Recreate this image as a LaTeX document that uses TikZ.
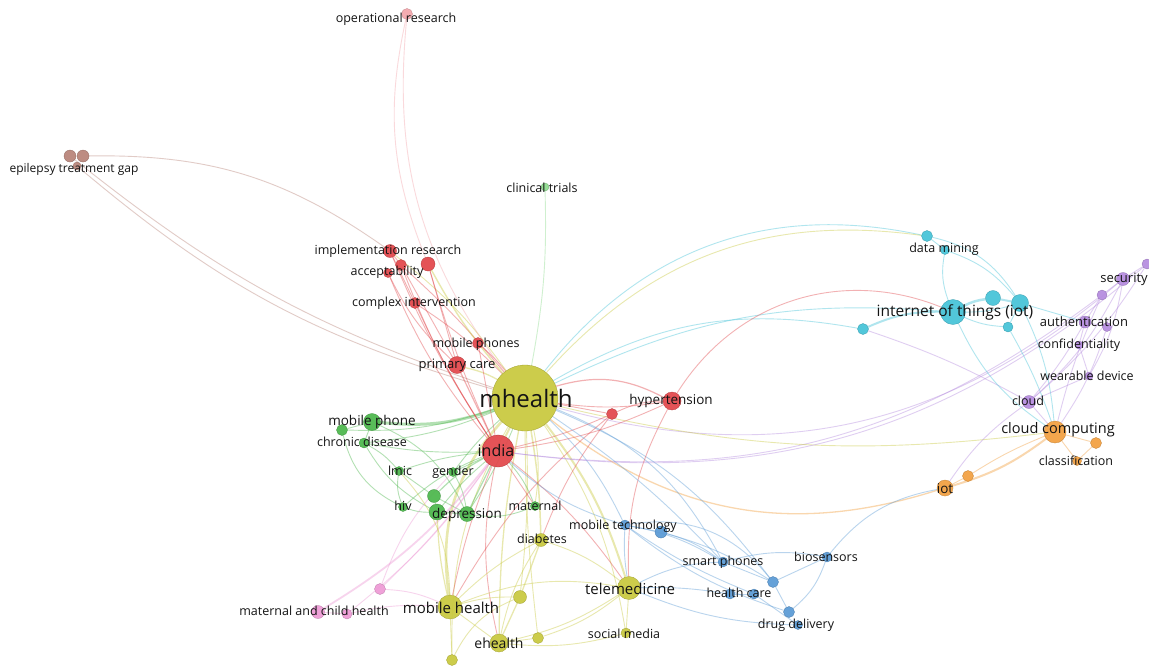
\documentclass[tikz,border=0pt]{standalone}
\usepackage{fontspec}
\setmainfont{Open Sans}
\pgfdeclarelayer{paper}
\pgfdeclarelayer{edges}
\pgfsetlayers{paper,edges,main}

% cluster colours
\definecolor{cy}{HTML}{C9C93E}
\definecolor{cr}{HTML}{E2474B}
\definecolor{cg}{HTML}{4CB74C}
\definecolor{cb}{HTML}{5A9AD6}
\definecolor{cc}{HTML}{45C3D8}
\definecolor{cp}{HTML}{B58BDF}
\definecolor{co}{HTML}{F3A040}
\definecolor{cm}{HTML}{EE9AD6}
\definecolor{cs}{HTML}{F4A6AC}
\definecolor{cw}{HTML}{B98479}
\definecolor{cl}{HTML}{8EDC8E}
\definecolor{txt}{HTML}{141414}

\tikzset{
  nd/.style 2 args={circle, inner sep=0pt, outer sep=0pt, minimum size=#2,
    fill=#1, draw=#1!80!black, line width=0.3pt, fill opacity=0.93},
  lb/.style={inner sep=0pt, text=txt, font=\fontsize{#1}{#1}\selectfont},
  lb/.default=12.5,
  ed/.style={draw=#1, draw opacity=0.42, line width=0.9pt},
  ey/.style={ed=cy}, er/.style={ed=cr}, eg/.style={ed=cg}, eb/.style={ed=cb},
  ec/.style={ed=cc}, ep/.style={ed=cp}, eo/.style={ed=co}, em/.style={ed=cm},
  es/.style={ed=cs}, ew/.style={ed=cw}, el/.style={ed=cl},
}

\begin{document}
\begin{tikzpicture}[x=1pt,y=-1pt]
\useasboundingbox (0,0) rectangle (1149,665);
\begin{pgfonlayer}{paper}
\fill[white] (0,0) rectangle (1149,665);
\end{pgfonlayer}

% ---------- yellow cluster ----------
\node[nd={cy}{66pt}] (mh)   at (525,398) {};
\node[nd={cy}{24pt}] (mobh) at (450,607) {};
\node[nd={cy}{23pt}] (tele) at (629,588) {};
\node[nd={cy}{18pt}] (ehl)  at (499,643) {};
\node[nd={cy}{13pt}] (diab) at (541,540) {};
\node[nd={cy}{10pt}] (socm) at (626,633) {};
\node[nd={cy}{13pt}] (y1)   at (520,597) {};
\node[nd={cy}{11pt}] (y2)   at (538,638) {};
\node[nd={cy}{11pt}] (y3)   at (452,660) {};

% ---------- red cluster ----------
\node[nd={cr}{32pt}] (ind)  at (498,451) {};
\node[nd={cr}{18pt}] (hyp)  at (672,401) {};
\node[nd={cr}{17pt}] (prim) at (457,365) {};
\node[nd={cr}{11pt}] (mphs) at (478,343) {};
\node[nd={cr}{11pt}] (cmpx) at (415,303) {};
\node[nd={cr}{13pt}] (impl) at (390,251) {};
\node[nd={cr}{11pt}] (acc)  at (401,265) {};
\node[nd={cr}{9pt}]  (acc2) at (388,273) {};
\node[nd={cr}{14pt}] (r1)   at (428,264) {};
\node[nd={cr}{11pt}] (r2)   at (612,414) {};

% ---------- small outlying clusters ----------
\node[nd={cs}{11pt}] (opr)  at (407,14) {};
\node[nd={cw}{12pt}] (ep1)  at (70,156) {};
\node[nd={cw}{12pt}] (ep2)  at (83,156) {};
\node[nd={cw}{8pt}]  (ep3)  at (77,166) {};
\node[nd={cl}{8pt}]  (clin) at (545,187) {};

% ---------- green cluster ----------
\node[nd={cg}{17pt}] (mph)  at (372,422) {};
\node[nd={cg}{11pt}] (g1)   at (342,430) {};
\node[nd={cg}{10pt}] (chr)  at (364,443) {};
\node[nd={cg}{9pt}]  (lmic) at (399,471) {};
\node[nd={cg}{9pt}]  (gen)  at (453,472) {};
\node[nd={cg}{13pt}] (g2)   at (434,496) {};
\node[nd={cg}{9pt}]  (hiv)  at (403,507) {};
\node[nd={cg}{16pt}] (dep1) at (437,512) {};
\node[nd={cg}{15pt}] (dep2) at (467,514) {};
\node[nd={cg}{9pt}]  (mat)  at (535,506) {};

% ---------- pink cluster ----------
\node[nd={cm}{11pt}] (mch0) at (380,589) {};
\node[nd={cm}{13pt}] (mch1) at (318,612) {};
\node[nd={cm}{10pt}] (mch2) at (347,614) {};

% ---------- blue cluster ----------
\node[nd={cb}{10pt}] (mtec) at (625,525) {};
\node[nd={cb}{12pt}] (mt2)  at (661,532) {};
\node[nd={cb}{10pt}] (smp)  at (723,562) {};
\node[nd={cb}{10pt}] (bios) at (827,557) {};
\node[nd={cb}{11pt}] (hc1)  at (773,582) {};
\node[nd={cb}{10pt}] (hc2)  at (754,594) {};
\node[nd={cb}{10pt}] (hc3)  at (730,594) {};
\node[nd={cb}{11pt}] (dd1)  at (789,612) {};
\node[nd={cb}{9pt}]  (dd2)  at (798,625) {};

% ---------- cyan cluster ----------
\node[nd={cc}{25pt}] (iotn) at (953,312) {};
\node[nd={cc}{15pt}] (c1)   at (993,298) {};
\node[nd={cc}{17pt}] (c2)   at (1020,303) {};
\node[nd={cc}{10pt}] (c3)   at (1008,327) {};
\node[nd={cc}{11pt}] (dm1)  at (927,236) {};
\node[nd={cc}{9pt}]  (dm2)  at (945,250) {};
\node[nd={cc}{11pt}] (c4)   at (863,329) {};

% ---------- purple cluster ----------
\node[nd={cp}{13pt}] (sec)  at (1123,279) {};
\node[nd={cp}{10pt}] (sec2) at (1147,264) {};
\node[nd={cp}{10pt}] (p1)   at (1102,295) {};
\node[nd={cp}{12pt}] (auth) at (1085,322) {};
\node[nd={cp}{9pt}]  (auth2) at (1107,327) {};
\node[nd={cp}{8pt}]  (conf) at (1079,345) {};
\node[nd={cp}{8pt}]  (wear) at (1089,376) {};
\node[nd={cp}{13pt}] (cld)  at (1029,402) {};

% ---------- orange cluster ----------
\node[nd={co}{22pt}] (ccmp) at (1055,432) {};
\node[nd={co}{11pt}] (o1)   at (1096,443) {};
\node[nd={co}{9pt}]  (cls)  at (1077,461) {};
\node[nd={co}{11pt}] (o2)   at (968,476) {};
\node[nd={co}{16pt}] (iot)  at (945,488) {};

% ---------- links ----------
\begin{pgfonlayer}{edges}
% mhealth hub
\draw[ey, line width=2.6pt] (mh) to[bend right=25] (mobh);
\draw[ey, line width=2pt] (mh) to[bend left=10] (tele);
\draw[ey, line width=1.3pt] (mh) to[bend right=5] (ehl);
\draw[ey, line width=1.5pt] (mh) to[bend left=4] (diab);
\draw[ey] (mh) to[bend left=12] (socm);
\draw[ey] (mh) to[bend left=4] (y1);
\draw[ey] (mh) to[bend right=3] (y2);
\draw[ey] (mh) to[bend right=15] (y3);
\draw[ey] (mh) to[bend left=10] (mat);
\draw[ey, line width=2pt] (mh) to (ind);
\draw[er, line width=1.2pt] (mh) to[bend left=22] (hyp);
\draw[er] (mh) to[bend right=8] (hyp);
\draw[er] (mh) to (r2);
\draw[ey, line width=1.3pt] (prim) to[bend left=8] (mh);
\draw[er] (mphs) to[bend left=5] (mh);
\draw[er] (cmpx) to[bend left=6] (mh);
\draw[ey] (impl) to[bend left=8] (mh);
\draw[er] (acc) to[bend left=4] (mh);
\draw[ey, line width=1.4pt] (r1) to[bend right=6] (mh);
\draw[es] (opr) to[bend right=21] (mh);
\draw[es] (opr) to[bend right=17] (r1);
\draw[ew] (ep1) to[bend right=10] (mh);
\draw[ew] (ep3) to[bend right=12] (mh);
\draw[ew] (ep2) to[bend left=18] (impl);
\draw[el] (clin) to[bend left=6] (mh);
\draw[ec] (mh) to[bend left=32] (dm1);
\draw[ey] (mh) to[bend left=28] (dm1);
\draw[ec] (mh) to[bend left=15] (iotn);
\draw[ec] (mh) to[bend left=20] (c4);
\draw[er] (hyp) to[bend left=40] (iotn);
\draw[ep] (c4) to[bend left=5] (cld);
\draw[ep] (mh) to[bend right=28] (sec);
\draw[ep] (ind) to[bend right=22] (p1);
\draw[eo, line width=1.3pt] (mh) to[bend right=28] (iot);
\draw[ey] (mh) to[bend right=10] (ccmp);
\draw[eb] (bios) to[bend left=20] (iot);
\draw[eb] (mh) to[bend left=20] (smp);
\draw[eb] (mh) to[bend left=15] (hc1);
\draw[eb] (mh) to[bend left=10] (mtec);

% green cluster
\draw[eg, line width=3pt] (mph) to[bend right=12] (mh);
\draw[eg] (g1) to[bend right=10] (mh);
\draw[eg] (chr) to[bend right=8] (mh);
\draw[eg] (chr) to[bend right=6] (ind);
\draw[eg] (lmic) to[bend left=6] (ind);
\draw[eg] (gen) to (ind);
\draw[eg, line width=1.2pt] (g2) to[bend left=8] (ind);
\draw[eg] (hiv) to[bend left=10] (ind);
\draw[eg] (dep1) to[bend left=5] (ind);
\draw[eg, line width=1.2pt] (dep2) to (ind);
\draw[eg] (mat) to[bend right=10] (ind);
\draw[eg] (mph) to (g1);
\draw[eg] (mph) to (chr);
\draw[eg] (chr) to[bend left=10] (lmic);
\draw[eg] (lmic) to[bend right=15] (hiv);
\draw[eg] (hiv) to[bend right=10] (dep1);
\draw[eg, line width=1.4pt] (dep1) to (dep2);
\draw[eg] (g2) to (dep1);
\draw[eg] (g2) to (dep2);
\draw[eg] (gen) to[bend left=10] (dep2);
\draw[eg] (lmic) to (g2);
\draw[eg] (chr) to[bend right=15] (dep1);
\draw[eg] (mph) to[bend left=20] (dep2);
\draw[eg] (gen) to[bend left=5] (mh);
\draw[eg] (dep2) to[bend right=5] (mh);
\draw[eg] (mat) to[bend left=15] (dep2);
\draw[eg] (g1) to[bend right=25] (hiv);

% pink cluster
\draw[em, line width=1.8pt] (mch1) to[bend right=10] (ind);
\draw[em] (mch2) to[bend right=8] (ind);
\draw[em] (mch0) to[bend right=5] (ind);
\draw[em] (mch0) to[bend left=12] (gen);
\draw[em] (mch1) to (mch2);
\draw[em] (mch2) to[bend left=8] (mobh);
\draw[em] (mch0) to[bend left=10] (mobh);

% red cluster
\draw[er] (impl) to[bend right=5] (ind);
\draw[er] (acc) to[bend right=6] (ind);
\draw[er] (acc2) to[bend right=8] (ind);
\draw[er] (cmpx) to[bend right=4] (ind);
\draw[er, line width=1.2pt] (prim) to (ind);
\draw[er] (mphs) to (ind);
\draw[er] (r1) to (prim);
\draw[er] (r1) to[bend right=4] (ind);
\draw[er] (impl) to (cmpx);
\draw[er] (acc) to (prim);
\draw[er] (acc2) to[bend right=10] (prim);
\draw[er] (impl) to (acc);
\draw[er] (hyp) to[bend left=8] (ind);
\draw[er] (r2) to[bend left=5] (ind);
\draw[er] (r2) to[bend left=12] (hyp);
\draw[er] (r2) to[bend right=8] (diab);
\draw[er] (hyp) to[bend right=15] (tele);
\draw[er] (r2) to[bend right=10] (mobh);
\draw[er] (ind) to[bend left=8] (tele);
\draw[er] (ind) to[bend right=5] (mobh);
\draw[er] (ind) to (mat);
\draw[er] (ind) to[bend right=12] (ehl);

% blue cluster
\draw[eb] (mtec) to (mt2);
\draw[eb] (mtec) to[bend left=10] (smp);
\draw[eb] (mtec) to[bend right=6] (hc2);
\draw[eb] (mtec) to[bend right=10] (dd1);
\draw[eb] (mt2) to[bend left=10] (smp);
\draw[eb] (mt2) to[bend left=8] (hc1);
\draw[eb] (smp) to (hc1);
\draw[eb] (smp) to[bend left=12] (bios);
\draw[eb] (hc1) to (bios);
\draw[eb] (hc1) to (dd1);
\draw[eb] (dd1) to[bend right=15] (bios);
\draw[eb] (hc2) to (dd2);
\draw[eb] (hc3) to (hc2);
\draw[eb] (tele) to[bend left=12] (smp);
\draw[eb] (tele) to[bend left=5] (hc3);
\draw[eb] (tele) to[bend right=10] (dd2);
\draw[eb] (tele) to[bend left=6] (mtec);
\draw[eb] (mtec) to[bend left=12] (ind);
\draw[eb] (smp) to[bend right=6] (mh);
\draw[eb] (hc1) to[bend right=30] (mtec);

% cyan cluster
\draw[ec, line width=2.5pt] (iotn) to[bend left=10] (c1);
\draw[ec, line width=2pt] (c1) to (c2);
\draw[ec, line width=2pt] (c4) to[bend left=12] (iotn);
\draw[ec] (iotn) to[bend right=10] (c3);
\draw[ec] (c2) to (c3);
\draw[ec] (dm1) to (dm2);
\draw[ec] (dm2) to[bend right=15] (iotn);
\draw[ec] (dm2) to[bend left=15] (c2);
\draw[ec] (dm1) to[bend left=22] (c2);
\draw[ec] (c2) to[bend left=10] (ccmp);
\draw[ec] (c3) to[bend left=5] (ccmp);
\draw[ec] (iotn) to[bend right=15] (ccmp);
\draw[ec] (c2) to (auth);
\draw[ec] (iotn) to[bend right=8] (c2);

% purple cluster
\draw[ep] (sec) to (sec2);
\draw[ep] (sec) to (p1);
\draw[ep] (p1) to (auth);
\draw[ep] (auth) to (auth2);
\draw[ep] (auth) to (conf);
\draw[ep] (conf) to (wear);
\draw[ep] (wear) to (cld);
\draw[ep] (auth) to[bend left=5] (cld);
\draw[ep] (sec) to[bend left=10] (cld);
\draw[ep] (sec2) to[bend left=8] (cld);
\draw[ep] (sec) to[bend left=10] (wear);
\draw[ep] (p1) to[bend right=5] (ccmp);
\draw[ep] (auth2) to[bend left=8] (ccmp);
\draw[ep] (cld) to (ccmp);
\draw[ep] (cld) to[bend right=10] (iot);
\draw[ep] (ind) to[bend right=24] (sec2);

% orange cluster
\draw[eo] (iot) to (o2);
\draw[eo] (o2) to[bend left=5] (ccmp);
\draw[eo, line width=2pt] (iot) to[bend right=10] (ccmp);
\draw[eo] (ccmp) to (o1);
\draw[eo] (ccmp) to (cls);
\draw[eo] (o1) to (cls);

% yellow cluster
\draw[ey] (tele) to (socm);
\draw[ey] (tele) to[bend left=10] (ehl);
\draw[ey] (tele) to[bend right=15] (mobh);
\draw[ey] (mobh) to (ehl);
\draw[ey] (mobh) to (y3);
\draw[ey] (mobh) to[bend left=8] (y1);
\draw[ey] (ehl) to (y2);
\draw[ey, line width=1.3pt] (ehl) to (y1);
\draw[ey, line width=1.3pt] (diab) to (y1);
\draw[ey] (diab) to[bend left=10] (tele);
\draw[ey] (diab) to[bend right=10] (ehl);
\draw[ey] (diab) to[bend right=8] (mobh);
\draw[ey] (y2) to[bend right=10] (tele);
\draw[ey] (socm) to[bend left=10] (ehl);
\draw[ey, line width=1.2pt] (mobh) to[bend left=5] (dep1);
\draw[ey] (mobh) to[bend right=20] (lmic);
\draw[ey] (y3) to[bend left=20] (y1);
\end{pgfonlayer}

% ---------- labels ----------
\node[lb=24] (t-mh)   at (526,398) {mhealth};
\node[lb=16] (t-ind)  at (496,450) {india};
\node[lb=13.5] (t-hyp)  at (671,401) {hypertension};
\node[lb=13] (t-prim) at (457,365) {primary care};
\node[lb] (t-mphs) at (476,344) {mobile phones};
\node[lb] (t-cmpx) at (414,303) {complex intervention};
\node[lb] (t-impl) at (388,251) {implementation research};
\node[lb] (t-acc)  at (387,272) {acceptability};
\node[lb] (t-opr)  at (396,19) {operational research};
\node[lb=12] (t-ep) at (74,169) {epilepsy treatment gap};
\node[lb] (t-clin) at (542,188) {clinical trials};
\node[lb=13.5] (t-mph) at (372,422) {mobile phone};
\node[lb] (t-chr)  at (362,442) {chronic disease};
\node[lb] (t-lmic) at (400,471) {lmic};
\node[lb] (t-gen)  at (453,472) {gender};
\node[lb] (t-hiv)  at (403,506) {hiv};
\node[lb=13.5] (t-dep) at (467,515) {depression};
\node[lb] (t-mat)  at (535,506) {maternal};
\node[lb=15] (t-mobh) at (451,608) {mobile health};
\node[lb=15] (t-tele) at (630,589) {telemedicine};
\node[lb=14] (t-ehl) at (499,643) {ehealth};
\node[lb] (t-diab) at (542,539) {diabetes};
\node[lb] (t-socm) at (624,634) {social media};
\node[lb] (t-mtec) at (623,526) {mobile technology};
\node[lb] (t-smp)  at (723,562) {smart phones};
\node[lb] (t-bios) at (826,557) {biosensors};
\node[lb] (t-hc)   at (739,593) {health care};
\node[lb] (t-dd)   at (796,625) {drug delivery};
\node[lb] (t-mch)  at (314,611) {maternal and child health};
\node[lb=15.5] (t-iotn) at (955,312) {internet of things (iot)};
\node[lb] (t-dm)   at (944,249) {data mining};
\node[lb=13] (t-sec) at (1124,279) {security};
\node[lb=13] (t-auth) at (1084,322) {authentication};
\node[lb] (t-conf) at (1079,345) {confidentiality};
\node[lb] (t-wear) at (1087,376) {wearable device};
\node[lb] (t-cld)  at (1028,401) {cloud};
\node[lb=14.5] (t-ccmp) at (1058,430) {cloud computing};
\node[lb] (t-cls)  at (1076,461) {classification};
\node[lb=13.5] (t-iot) at (945,489) {iot};
\end{tikzpicture}
\end{document}
